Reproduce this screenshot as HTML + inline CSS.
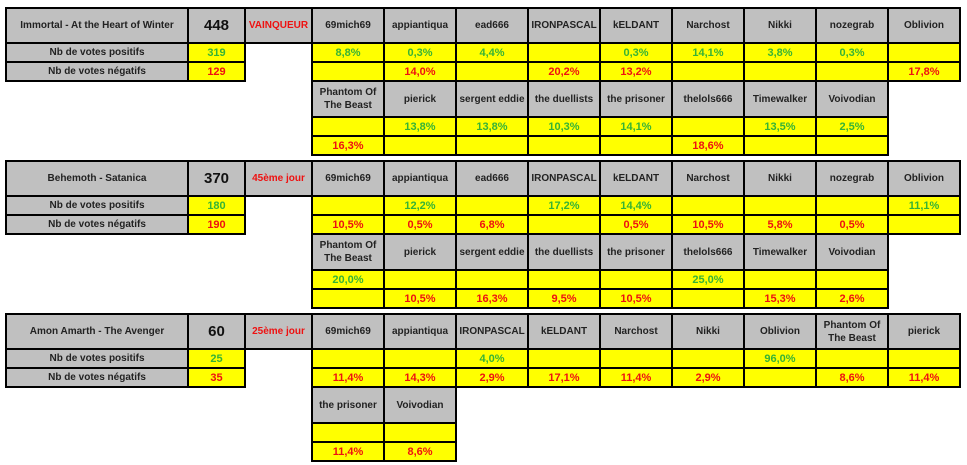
<!DOCTYPE html>
<html><head><meta charset="utf-8"><style>
body{margin:0;width:967px;height:465px;background:#fff;position:relative;overflow:hidden;font-family:"Liberation Sans",sans-serif;}
table{position:absolute;left:5px;border-collapse:collapse;table-layout:fixed;width:956px;}
td{border:2px solid #000;padding:0;text-align:center;font-size:10px;font-weight:bold;color:#222;line-height:13px;overflow:hidden;white-space:nowrap;}
td.b{border:none;background:#fff;}
.g{background:#c0c0c0;}
.y{background:#ffff00;}
.n{font-size:15px;color:#111;}
.v{color:#ee1111;}
.p{color:#36b336;font-size:11px;vertical-align:bottom;line-height:15px;}
.m{color:#ee1111;font-size:11px;vertical-align:bottom;line-height:15px;}
tr.h td{height:33px;}
tr.r td{height:17px;}
tr.s td{height:34px;}
td.w{white-space:normal;}
</style></head><body>

<table style="top:7px">
<colgroup><col style="width:182px"><col style="width:57px"><col style="width:67px"><col style="width:72px"><col style="width:72px"><col style="width:72px"><col style="width:72px"><col style="width:72px"><col style="width:72px"><col style="width:72px"><col style="width:72px"><col style="width:72px"></colgroup>
<tr class="h"><td class="g">Immortal - At the Heart of Winter</td><td class="g n">448</td><td class="g v">VAINQUEUR</td><td class="g">69mich69</td><td class="g">appiantiqua</td><td class="g">ead666</td><td class="g">IRONPASCAL</td><td class="g">kELDANT</td><td class="g">Narchost</td><td class="g">Nikki</td><td class="g">nozegrab</td><td class="g">Oblivion</td></tr>
<tr class="r"><td class="g">Nb de votes positifs</td><td class="y p">319</td><td class="b"></td><td class="y p">8,8%</td><td class="y p">0,3%</td><td class="y p">4,4%</td><td class="y"></td><td class="y p">0,3%</td><td class="y p">14,1%</td><td class="y p">3,8%</td><td class="y p">0,3%</td><td class="y"></td></tr>
<tr class="r"><td class="g">Nb de votes négatifs</td><td class="y m">129</td><td class="b"></td><td class="y"></td><td class="y m">14,0%</td><td class="y"></td><td class="y m">20,2%</td><td class="y m">13,2%</td><td class="y"></td><td class="y"></td><td class="y"></td><td class="y m">17,8%</td></tr>
<tr class="s"><td class="b"></td><td class="b"></td><td class="b"></td><td class="g w">Phantom Of The Beast</td><td class="g">pierick</td><td class="g">sergent eddie</td><td class="g">the duellists</td><td class="g">the prisoner</td><td class="g">thelols666</td><td class="g">Timewalker</td><td class="g">Voivodian</td><td class="b"></td></tr>
<tr class="r"><td class="b"></td><td class="b"></td><td class="b"></td><td class="y"></td><td class="y p">13,8%</td><td class="y p">13,8%</td><td class="y p">10,3%</td><td class="y p">14,1%</td><td class="y"></td><td class="y p">13,5%</td><td class="y p">2,5%</td><td class="b"></td></tr>
<tr class="r"><td class="b"></td><td class="b"></td><td class="b"></td><td class="y m">16,3%</td><td class="y"></td><td class="y"></td><td class="y"></td><td class="y"></td><td class="y m">18,6%</td><td class="y"></td><td class="y"></td><td class="b"></td></tr>
</table>

<table style="top:160px">
<colgroup><col style="width:182px"><col style="width:57px"><col style="width:67px"><col style="width:72px"><col style="width:72px"><col style="width:72px"><col style="width:72px"><col style="width:72px"><col style="width:72px"><col style="width:72px"><col style="width:72px"><col style="width:72px"></colgroup>
<tr class="h"><td class="g">Behemoth - Satanica</td><td class="g n">370</td><td class="g v">45ème jour</td><td class="g">69mich69</td><td class="g">appiantiqua</td><td class="g">ead666</td><td class="g">IRONPASCAL</td><td class="g">kELDANT</td><td class="g">Narchost</td><td class="g">Nikki</td><td class="g">nozegrab</td><td class="g">Oblivion</td></tr>
<tr class="r"><td class="g">Nb de votes positifs</td><td class="y p">180</td><td class="b"></td><td class="y"></td><td class="y p">12,2%</td><td class="y"></td><td class="y p">17,2%</td><td class="y p">14,4%</td><td class="y"></td><td class="y"></td><td class="y"></td><td class="y p">11,1%</td></tr>
<tr class="r"><td class="g">Nb de votes négatifs</td><td class="y m">190</td><td class="b"></td><td class="y m">10,5%</td><td class="y m">0,5%</td><td class="y m">6,8%</td><td class="y"></td><td class="y m">0,5%</td><td class="y m">10,5%</td><td class="y m">5,8%</td><td class="y m">0,5%</td><td class="y"></td></tr>
<tr class="s"><td class="b"></td><td class="b"></td><td class="b"></td><td class="g w">Phantom Of The Beast</td><td class="g">pierick</td><td class="g">sergent eddie</td><td class="g">the duellists</td><td class="g">the prisoner</td><td class="g">thelols666</td><td class="g">Timewalker</td><td class="g">Voivodian</td><td class="b"></td></tr>
<tr class="r"><td class="b"></td><td class="b"></td><td class="b"></td><td class="y p">20,0%</td><td class="y"></td><td class="y"></td><td class="y"></td><td class="y"></td><td class="y p">25,0%</td><td class="y"></td><td class="y"></td><td class="b"></td></tr>
<tr class="r"><td class="b"></td><td class="b"></td><td class="b"></td><td class="y"></td><td class="y m">10,5%</td><td class="y m">16,3%</td><td class="y m">9,5%</td><td class="y m">10,5%</td><td class="y"></td><td class="y m">15,3%</td><td class="y m">2,6%</td><td class="b"></td></tr>
</table>

<table style="top:313px">
<colgroup><col style="width:182px"><col style="width:57px"><col style="width:67px"><col style="width:72px"><col style="width:72px"><col style="width:72px"><col style="width:72px"><col style="width:72px"><col style="width:72px"><col style="width:72px"><col style="width:72px"><col style="width:72px"></colgroup>
<tr class="h"><td class="g">Amon Amarth - The Avenger</td><td class="g n">60</td><td class="g v">25ème jour</td><td class="g">69mich69</td><td class="g">appiantiqua</td><td class="g">IRONPASCAL</td><td class="g">kELDANT</td><td class="g">Narchost</td><td class="g">Nikki</td><td class="g">Oblivion</td><td class="g w">Phantom Of The Beast</td><td class="g">pierick</td></tr>
<tr class="r"><td class="g">Nb de votes positifs</td><td class="y p">25</td><td class="b"></td><td class="y"></td><td class="y"></td><td class="y p">4,0%</td><td class="y"></td><td class="y"></td><td class="y"></td><td class="y p">96,0%</td><td class="y"></td><td class="y"></td></tr>
<tr class="r"><td class="g">Nb de votes négatifs</td><td class="y m">35</td><td class="b"></td><td class="y m">11,4%</td><td class="y m">14,3%</td><td class="y m">2,9%</td><td class="y m">17,1%</td><td class="y m">11,4%</td><td class="y m">2,9%</td><td class="y"></td><td class="y m">8,6%</td><td class="y m">11,4%</td></tr>
<tr class="s"><td class="b"></td><td class="b"></td><td class="b"></td><td class="g">the prisoner</td><td class="g">Voivodian</td><td class="b"></td><td class="b"></td><td class="b"></td><td class="b"></td><td class="b"></td><td class="b"></td><td class="b"></td></tr>
<tr class="r"><td class="b"></td><td class="b"></td><td class="b"></td><td class="y"></td><td class="y"></td><td class="b"></td><td class="b"></td><td class="b"></td><td class="b"></td><td class="b"></td><td class="b"></td><td class="b"></td></tr>
<tr class="r"><td class="b"></td><td class="b"></td><td class="b"></td><td class="y m">11,4%</td><td class="y m">8,6%</td><td class="b"></td><td class="b"></td><td class="b"></td><td class="b"></td><td class="b"></td><td class="b"></td><td class="b"></td></tr>
</table>

</body></html>
